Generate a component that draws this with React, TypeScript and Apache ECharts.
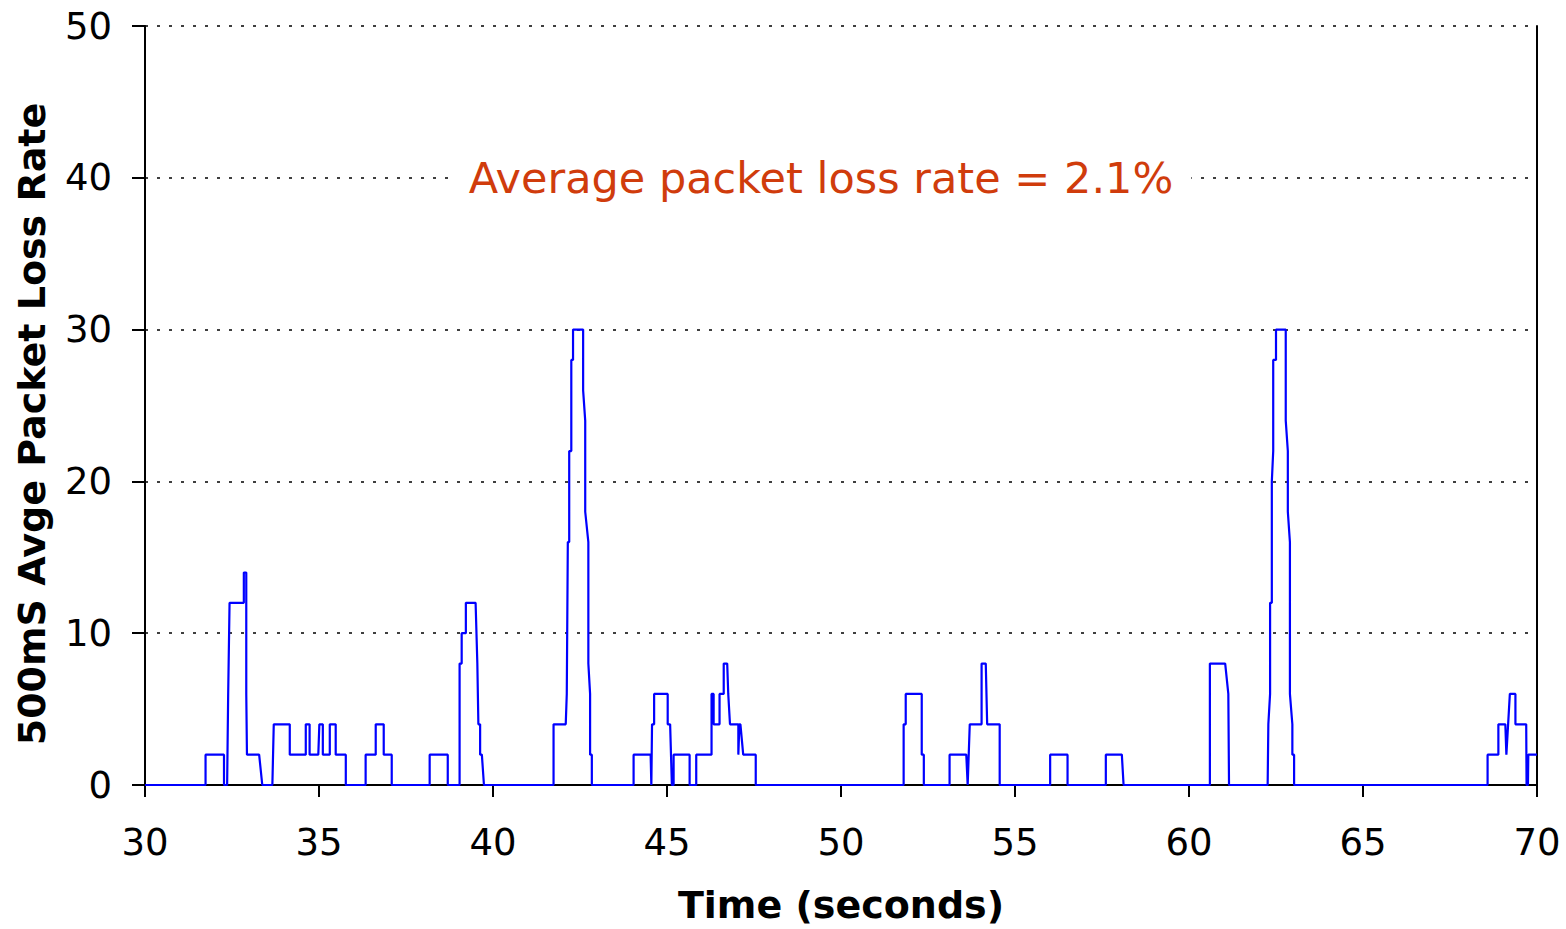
import React, { useEffect, useRef } from "react";
import * as echarts from "echarts";

// Time (seconds) and 500 ms average packet loss rate (%) — step trace
const timeSec: number[] = [
  30, 31.74, 31.74, 32.27, 32.27, 32.36, 32.39, 32.43, 32.84, 32.84, 32.91, 32.91, 32.93, 33.28, 33.37,
  33.66, 33.7, 34.16, 34.16, 34.62, 34.62, 34.73, 34.73, 34.98, 35.01, 35.11, 35.11, 35.31, 35.31, 35.48,
  35.48, 35.77, 35.77, 36.34, 36.34, 36.63, 36.63, 36.86, 36.86, 37.09, 37.09, 38.18, 38.18, 38.7, 38.7,
  39.04, 39.04, 39.1, 39.1, 39.22, 39.22, 39.5, 39.55, 39.58, 39.63, 39.63, 39.68, 39.74,
  41.74, 41.74, 42.09, 42.12, 42.15, 42.19, 42.19, 42.25, 42.25, 42.3, 42.3, 42.59, 42.59, 42.65, 42.65,
  42.74, 42.74, 42.79, 42.79, 42.84, 42.84,
  44.04, 44.04, 44.53, 44.55, 44.57, 44.63, 44.63, 45.02, 45.02, 45.09, 45.14, 45.19, 45.19, 45.65, 45.65,
  45.84, 45.84, 46.28, 46.28, 46.34, 46.34, 46.51, 46.51, 46.63, 46.63, 46.73, 46.76, 46.81, 47.05, 47.05,
  47.08, 47.11, 47.19, 47.55, 47.55,
  51.8, 51.8, 51.86, 51.86, 52.32, 52.32, 52.38, 52.38, 53.12, 53.12, 53.6, 53.64, 53.7, 54.04, 54.04,
  54.16, 54.2, 54.56, 54.56, 56.01, 56.01, 56.51, 56.51, 57.61, 57.61, 58.07, 58.12,
  60.6, 60.6, 61.04, 61.13, 61.15,
  62.26, 62.28, 62.33, 62.33, 62.38, 62.38, 62.42, 62.42, 62.5, 62.5, 62.78, 62.78, 62.84, 62.84, 62.9,
  62.9, 62.97, 62.97, 63.02, 63.02,
  68.58, 68.58, 68.89, 68.89, 69.09, 69.12, 69.22, 69.38, 69.38, 69.69, 69.7, 69.74, 69.75, 70,
];

const lossPct: number[] = [
  0, 0, 2, 2, 0, 0, 6, 12, 12, 14, 14, 6, 2, 2, 0,
  0, 4, 4, 2, 2, 4, 4, 2, 2, 4, 4, 2, 2, 4, 4,
  2, 2, 0, 0, 2, 2, 4, 4, 2, 2, 0, 0, 2, 2, 0,
  0, 8, 8, 10, 10, 12, 12, 8, 4, 4, 2, 2, 0,
  0, 4, 4, 6, 16, 16, 22, 22, 28, 28, 30, 30, 26, 24, 18,
  16, 8, 6, 2, 2, 0,
  0, 2, 2, 0, 4, 4, 6, 6, 4, 4, 0, 0, 2, 2, 0,
  0, 2, 2, 6, 6, 4, 4, 6, 6, 8, 8, 6, 4, 4, 2,
  4, 4, 2, 2, 0,
  0, 4, 4, 6, 6, 2, 2, 0, 0, 2, 2, 0, 4, 4, 8,
  8, 4, 4, 0, 0, 2, 2, 0, 0, 2, 2, 0,
  0, 8, 8, 6, 0,
  0, 4, 6, 12, 12, 20, 22, 28, 28, 30, 30, 24, 22, 18, 16,
  6, 4, 2, 2, 0,
  0, 2, 2, 4, 4, 2, 6, 6, 4, 4, 0, 0, 2, 2,
];

const xTicks = { min: 30, max: 70, interval: 5 };
const yTicks = { min: 0, max: 50, interval: 10 };

const annotationText = "Average packet loss rate = 2.1%";
const xAxisTitle = "Time (seconds)";
const yAxisTitle = "500mS Avge Packet Loss Rate";

const FONT = "DejaVu Sans";

export default function App() {
  const ref = useRef<HTMLDivElement>(null);

  useEffect(() => {
    if (!ref.current) return;
    const chart = echarts.init(ref.current, undefined, { renderer: "svg" });
    const data = timeSec.map((t, i) => [t, lossPct[i]]);

    chart.setOption({
      animation: false,
      backgroundColor: "#ffffff",
      textStyle: { fontFamily: FONT },
      grid: { left: 145, right: 29, top: 26, bottom: 139, containLabel: false },
      xAxis: {
        type: "value",
        min: xTicks.min,
        max: xTicks.max,
        interval: xTicks.interval,
        name: xAxisTitle,
        nameLocation: "middle",
        nameGap: 101,
        nameTextStyle: { fontFamily: FONT, fontSize: 38, fontWeight: "bold", color: "#000" },
        axisLine: { show: true, onZero: false, lineStyle: { color: "#000", width: 2 } },
        axisTick: { show: true, inside: false, length: 12, lineStyle: { color: "#000", width: 2 } },
        axisLabel: { fontFamily: FONT, fontSize: 37, color: "#000", margin: 39 },
        splitLine: { show: false },
      },
      yAxis: [
        {
          type: "value",
          min: yTicks.min,
          max: yTicks.max,
          interval: yTicks.interval,
          axisLine: { show: true, lineStyle: { color: "#000", width: 2 } },
          axisTick: { show: true, inside: false, length: 13, lineStyle: { color: "#000", width: 2 } },
          axisLabel: { fontFamily: FONT, fontSize: 37, color: "#000", margin: 33 },
          splitLine: { show: true, lineStyle: { color: "#000", width: 1.5, type: [3, 9] } },
        },
        {
          type: "value",
          position: "right",
          min: yTicks.min,
          max: yTicks.max,
          interval: yTicks.interval,
          axisLine: { show: true, lineStyle: { color: "#000", width: 2 } },
          axisTick: { show: false },
          axisLabel: { show: false },
          splitLine: { show: false },
        },
      ],
      series: [
        {
          type: "line",
          data,
          showSymbol: false,
          symbol: "none",
          lineStyle: { color: "#0000FF", width: 2.2 },
          z: 3,
        },
      ],
      graphic: [
        {
          type: "text",
          x: 821,
          y: 178,
          z: 10,
          style: {
            text: annotationText,
            fontFamily: FONT,
            fontSize: 43,
            fill: "#D03C0C",
            align: "center",
            verticalAlign: "middle",
            backgroundColor: "#ffffff",
            padding: [4, 18],
          },
        },
        {
          type: "text",
          x: 32,
          y: 424,
          rotation: Math.PI / 2,
          style: {
            text: yAxisTitle,
            fontFamily: FONT,
            fontSize: 38,
            fontWeight: "bold",
            fill: "#000",
            align: "center",
            verticalAlign: "middle",
          },
        },
      ],
    });

    return () => chart.dispose();
  }, []);

  return (
    <div
      ref={ref}
      style={{ position: "fixed", left: 0, top: 0, width: 1566, height: 929, background: "#fff" }}
    />
  );
}
